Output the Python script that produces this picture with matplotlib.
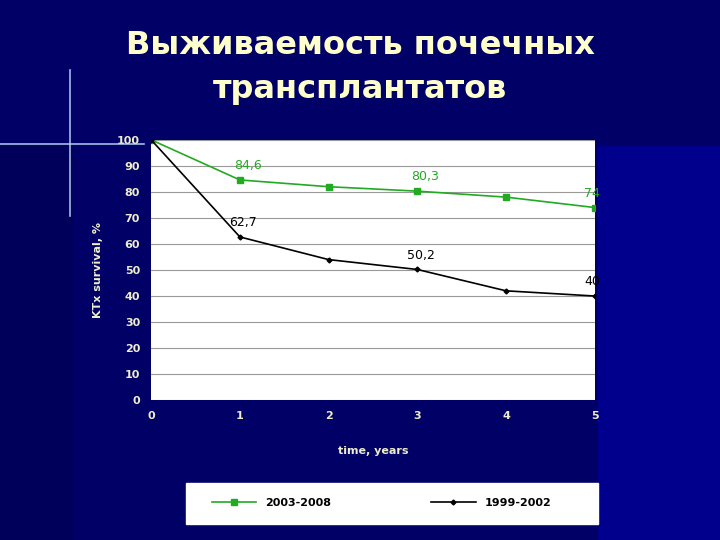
import matplotlib
matplotlib.use("Agg")
import matplotlib.pyplot as plt

years = [0, 1, 2, 3, 4, 5]
s2003 = [100, 84.6, 82, 80.3, 78, 74]
s1999 = [100, 62.7, 54, 50.2, 42, 40]
lab2003 = {1: "84,6", 3: "80,3", 5: "74"}
lab1999 = {1: "62,7", 3: "50,2", 5: "40"}

fig = plt.figure(figsize=(7.2, 5.4), dpi=100)
fig.patch.set_facecolor("#000066")
fig.add_artist(plt.Rectangle((0.83, 0), 0.17, 0.73, transform=fig.transFigure, color="#00008c", zorder=-5))
fig.add_artist(plt.Rectangle((0.0, 0), 0.1, 0.73, transform=fig.transFigure, color="#00005a", zorder=-5))
# cross star
fig.add_artist(plt.Line2D([0.0, 0.2], [0.733, 0.733], color="#bbddff", lw=1.2, alpha=0.85))
fig.add_artist(plt.Line2D([0.097, 0.097], [0.6, 0.87], color="#bbddff", lw=1.2, alpha=0.85))

fig.text(0.5, 0.915, "Выживаемость почечных", color="#ffffcc", fontsize=23, fontweight="bold", ha="center", va="center", family="DejaVu Sans")
fig.text(0.5, 0.835, "трансплантатов", color="#ffffcc", fontsize=23, fontweight="bold", ha="center", va="center", family="DejaVu Sans")

ax = fig.add_axes([0.21, 0.259, 0.616, 0.482])
ax.set_facecolor("white")
ax.plot(years, s2003, color="#22aa22", marker="s", ms=4, lw=1.2, label="2003-2008")
ax.plot(years, s1999, color="black", marker="D", ms=2.5, lw=1.2, label="1999-2002")
for x, t in lab2003.items():
    ax.text(x - 0.07 if x < 5 else x - 0.12, s2003[x] + 3, t, color="#22aa22", fontsize=9, ha="left", va="bottom")
for x, t in lab1999.items():
    ax.text(x - 0.12, s1999[x] + 3, t, color="black", fontsize=9, ha="left", va="bottom")
ax.set_xlim(0, 5); ax.set_ylim(0, 100)
ax.set_xticks(years); ax.set_yticks(range(0, 101, 10))
ax.grid(axis="y", color="#999999", lw=0.8)
ax.set_axisbelow(True)
ax.tick_params(colors="#eeeecc", labelsize=8, length=0, pad=8)
for l in ax.get_xticklabels() + ax.get_yticklabels():
    l.set_fontweight("bold")
for s in ax.spines.values():
    s.set_visible(False)
ax.set_xlabel("time, years", color="#eeeecc", fontsize=8, fontweight="bold", labelpad=18)
ax.set_ylabel("KTx survival, %", color="#eeeecc", fontsize=8, fontweight="bold", labelpad=10)
leg = fig.legend(loc="center", bbox_to_anchor=(0.53, 0.0685), ncol=2, frameon=True, fancybox=False,
                 prop={"weight": "bold", "size": 8}, handlelength=4, columnspacing=9)
leg.get_frame().set_edgecolor("white")
fig.add_artist(plt.Rectangle((0.258, 0.03), 0.573, 0.075, transform=fig.transFigure, color="white", zorder=0))
fig.savefig("out.png", dpi=100, facecolor=fig.get_facecolor())
